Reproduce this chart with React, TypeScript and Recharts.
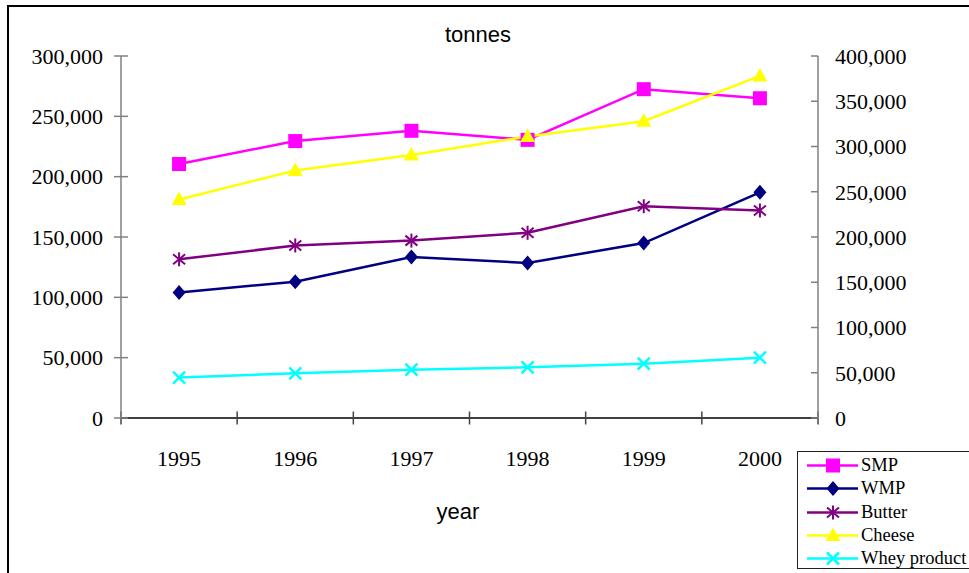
import { LineChart, Line, XAxis, YAxis } from 'recharts'

const years = [1995, 1996, 1997, 1998, 1999, 2000]
const smp = [210500, 229500, 238000, 230500, 272500, 265000]
const wmp = [104000, 113000, 133500, 128500, 145000, 187000]
const butter = [131500, 143000, 147000, 153500, 175500, 172000]
// cheese
const cheese = [241500, 273500, 290500, 311000, 328000, 378000]
const whey = [33500, 37000, 40000, 42000, 45000, 50000]

const leftTicks = [0, 50000, 100000, 150000, 200000, 250000, 300000]
const rightTicks = [0, 50000, 100000, 150000, 200000, 250000, 300000, 350000, 400000]
const yearEdges = [1994.5, 1995.5, 1996.5, 1997.5, 1998.5, 1999.5, 2000.5]

const data = years.map((year, i) => ({
  year,
  smp: smp[i],
  wmp: wmp[i],
  butter: butter[i],
  cheese: cheese[i],
  whey: whey[i],
}))

type Kind = 'square' | 'diamond' | 'star' | 'triangle' | 'cross'

const series: { key: string; name: string; color: string; kind: Kind; axis: string }[] = [
  { key: 'smp', name: 'SMP', color: '#FF00FF', kind: 'square', axis: 'left' },
  { key: 'wmp', name: 'WMP', color: '#000080', kind: 'diamond', axis: 'left' },
  { key: 'butter', name: 'Butter', color: '#800080', kind: 'star', axis: 'left' },
  { key: 'cheese', name: 'Cheese', color: '#FFFF00', kind: 'triangle', axis: 'right' },
  { key: 'whey', name: 'Whey product', color: '#00FFFF', kind: 'cross', axis: 'left' },
]

const serif = '"Liberation Serif", "Times New Roman", serif'
const sans = '"Liberation Sans", Arial, sans-serif'
const fmt = (v: number) => v.toLocaleString('en-US')

function Marker({ kind, cx, cy, color }: { kind: Kind; cx: number; cy: number; color: string }) {
  if (cx == null || cy == null) return null
  switch (kind) {
    case 'square':
      return <rect x={cx - 7} y={cy - 7} width={14} height={14} fill={color} />
    case 'diamond':
      return (
        <polygon
          points={`${cx},${cy - 7.5} ${cx + 6.5},${cy} ${cx},${cy + 7.5} ${cx - 6.5},${cy}`}
          fill={color}
        />
      )
    case 'triangle':
      return (
        <polygon
          points={`${cx},${cy - 8} ${cx + 7.5},${cy + 5.5} ${cx - 7.5},${cy + 5.5}`}
          fill={color}
        />
      )
    case 'star':
      return (
        <g stroke={color} strokeWidth={2}>
          <line x1={cx} y1={cy - 7} x2={cx} y2={cy + 7} />
          <line x1={cx - 6} y1={cy - 5} x2={cx + 6} y2={cy + 5} />
          <line x1={cx - 6} y1={cy + 5} x2={cx + 6} y2={cy - 5} />
        </g>
      )
    case 'cross':
      return (
        <g stroke={color} strokeWidth={2.5}>
          <line x1={cx - 6} y1={cy - 6} x2={cx + 6} y2={cy + 6} />
          <line x1={cx - 6} y1={cy + 6} x2={cx + 6} y2={cy - 6} />
        </g>
      )
  }
}

// a text tick that is sure to use the serif face
function SerifTick({ x, y, payload, anchor, dy }: any) {
  return (
    <text x={x} y={y} dy={dy} textAnchor={anchor} fontFamily={serif} fontSize={22} fill="#000">
      {fmt(payload.value)}
    </text>
  )
}

function YearTick({ x, y, payload }: any) {
  return (
    <text x={x} y={y} dy="0.71em" textAnchor="middle" fontFamily={serif} fontSize={22} fill="#000">
      {payload.value}
    </text>
  )
}

const NoLabel = () => <g />

function LegendBox() {
  return (
    <div
      style={{
        position: 'absolute',
        left: 797,
        top: 451,
        width: 180,
        height: 118,
        border: '1.5px solid #222',
        background: '#fff',
        paddingTop: 2,
        boxSizing: 'border-box',
      }}
    >
      {series.map((s) => (
        <div key={s.key} style={{ display: 'flex', alignItems: 'center', height: 23.3 }}>
          <svg width={63} height={23} style={{ flex: 'none' }}>
            <line x1={9} y1={11.5} x2={60} y2={11.5} stroke={s.color} strokeWidth={2.5} />
            <Marker kind={s.kind} cx={35} cy={11.5} color={s.color} />
          </svg>
          <span style={{ fontFamily: serif, fontSize: 18.5, lineHeight: '23px', whiteSpace: 'nowrap' }}>
            {s.name}
          </span>
        </div>
      ))}
    </div>
  )
}

export default function App() {
  return (
    <div style={{ position: 'absolute', left: 0, top: 0, width: 969, height: 573, background: '#fff', overflow: 'hidden' }}>
      <div
        style={{
          position: 'absolute',
          left: 7,
          top: 5,
          width: 980,
          height: 600,
          borderLeft: '2px solid #000',
          borderTop: '2px solid #000',
        }}
      />
      <LineChart
        width={969}
        height={573}
        data={data}
        margin={{ top: 56, right: 0, bottom: 114, left: 0 }}
        style={{ fontFamily: serif }}
      >
        <XAxis
          xAxisId="edges"
          type="number"
          dataKey="year"
          domain={[1994.5, 2000.5]}
          ticks={yearEdges}
          tick={<NoLabel />}
          tickSize={13}
          tickLine={{ transform: 'translate(0,-6.5)', stroke: '#444' }}
          height={1}
          stroke="#000"
          strokeWidth={1.5}
        />
        <XAxis
          xAxisId="labels"
          type="number"
          dataKey="year"
          domain={[1994.5, 2000.5]}
          ticks={years}
          axisLine={false}
          tickLine={false}
          tickSize={0}
          tickMargin={31}
          height={40}
          tick={<YearTick />}
        />
        <YAxis
          yAxisId="left"
          domain={[0, 300000]}
          ticks={leftTicks}
          width={121}
          tickSize={14}
          tickMargin={4}
          tickLine={{ transform: 'translate(7,0)' }}
          stroke="#808080"
          strokeWidth={1.5}
          tick={<SerifTick anchor="end" dy="0.355em" />}
        />
        <YAxis
          yAxisId="right"
          orientation="right"
          domain={[0, 400000]}
          ticks={rightTicks}
          width={151}
          tickSize={7}
          tickMargin={10}
          tickLine={{ transform: 'translate(-7,0)' }}
          stroke="#808080"
          strokeWidth={1.5}
          tick={<SerifTick anchor="start" dy="0.355em" />}
        />
        {series.map((s) => (
          <Line
            key={s.key}
            xAxisId="edges"
            yAxisId={s.axis}
            dataKey={s.key}
            name={s.name}
            stroke={s.color}
            strokeWidth={2.5}
            isAnimationActive={false}
            dot={(p: any) => <Marker key={`${s.key}-${p.index}`} kind={s.kind} cx={p.cx} cy={p.cy} color={s.color} />}
            activeDot={false}
          />
        ))}
      </LineChart>
      <div
        style={{
          position: 'absolute',
          left: 478,
          top: 24,
          transform: 'translateX(-50%)',
          fontFamily: sans,
          fontSize: 22,
          lineHeight: '22px',
        }}
      >
        tonnes
      </div>
      <div
        style={{
          position: 'absolute',
          left: 458,
          top: 501,
          transform: 'translateX(-50%)',
          fontFamily: sans,
          fontSize: 22,
          lineHeight: '22px',
        }}
      >
        year
      </div>
      <LegendBox />
    </div>
  )
}
